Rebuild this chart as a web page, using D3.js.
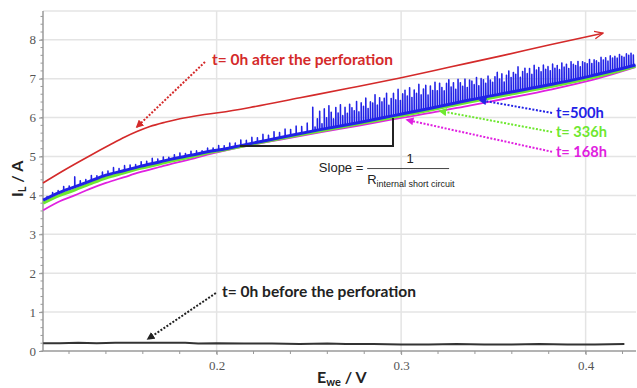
<!DOCTYPE html>
<html><head><meta charset="utf-8">
<script src="https://cdn.jsdelivr.net/npm/d3@7"></script>
<style>body{margin:0;background:#fff}svg{display:block}</style>
</head><body>
<svg id="c" width="637" height="388"></svg>
<script>
// ---------- data ----------
const xTicks = [0.2, 0.3, 0.4];
const yTicks = [0, 1, 2, 3, 4, 5, 6, 7, 8];

const redX = [0.1059,0.1178,0.1313,0.1422,0.1503,0.1568,0.1638,0.1720,0.1801,0.1910,0.2018,0.2181,0.2452,0.2722,0.2994,0.3265,0.3536,0.3807,0.4094];
const redY = [4.32,4.66,5.02,5.30,5.50,5.64,5.77,5.88,5.97,6.06,6.13,6.26,6.51,6.76,7.02,7.30,7.58,7.87,8.17];

const curveX = [0.106,0.115,0.123,0.131,0.140,0.150,0.158,0.169,0.177,0.186,0.195,0.205,0.213,0.234,0.256,0.278,0.296,0.316,0.337,0.359,0.381,0.402,0.427];
const magentaY = [3.62,3.85,4.00,4.16,4.32,4.47,4.59,4.73,4.83,4.93,5.05,5.16,5.24,5.43,5.62,5.80,5.96,6.12,6.31,6.51,6.72,6.95,7.30];
const greenY   = [3.80,4.00,4.14,4.29,4.45,4.58,4.69,4.81,4.90,4.99,5.09,5.18,5.26,5.46,5.66,5.85,6.01,6.20,6.40,6.60,6.80,7.01,7.32];
const blueY    = [3.88,4.08,4.22,4.36,4.52,4.64,4.74,4.86,4.95,5.03,5.12,5.20,5.28,5.48,5.69,5.88,6.05,6.24,6.45,6.65,6.85,7.06,7.35];

// blue noise spikes (height above the blue trace)
const blueSpikesLeft = [0.05,0.09,0.07,0.12,0.08,0.26,0.11,0.09,0.14,0.08,0.12,0.10,0.15,0.09,0.13,0.11,0.08,0.12,0.10,0.14,
0.09,0.11,0.07,0.10,0.12,0.08,0.11,0.09,0.06,0.10,0.08,0.12,0.09,0.13,0.10,0.15,0.11,0.16,0.12,0.18,
0.13,0.19,0.14,0.20,0.16,0.22,0.18,0.24];
const blueSpikesRight = [0.62,0.10,0.30,0.48,0.15,0.52,0.28,0.58,0.40,0.22,0.50,0.35,0.55,0.26,0.46,0.30,0.52,0.42,0.33,0.56,
0.28,0.50,0.40,0.60,0.32,0.48,0.44,0.64,0.36,0.54,0.42,0.50,0.62,0.30,0.46,0.58,0.40,0.66,0.36,0.52,
0.60,0.44,0.64,0.38,0.56,0.46,0.68,0.40,0.54,0.62,0.36,0.58,0.45,0.65,0.42,0.60,0.48,0.38,0.56,0.64,
0.44,0.54,0.36,0.60,0.50,0.40,0.57,0.34,0.52,0.48,0.38,0.55,0.33,0.50,0.46,0.36,0.53,0.42,0.35,0.48,
0.58,0.40,0.52,0.30,0.46,0.56,0.38,0.50,0.44,0.62,0.34,0.48,0.55,0.40,0.52,0.36,0.58,0.45,0.50,0.38,
0.54,0.42,0.48,0.36,0.52,0.40,0.46,0.34,0.50,0.38,0.44,0.32,0.48,0.40,0.36,0.45,0.30,0.42,0.38,0.34,
0.44,0.32,0.40,0.36,0.30,0.42,0.34,0.38,0.28,0.40,0.33,0.36,0.30,0.38,0.32,0.28,0.35,0.30,0.34,0.28];

const blackX = [0.106,0.115,0.125,0.135,0.145,0.155,0.165,0.175,0.183,0.190,0.200,0.215,0.230,0.245,0.260,0.270,0.285,0.300,0.315,0.330,0.345,0.360,0.375,0.390,0.405,0.421];
const blackY = [0.20,0.20,0.21,0.20,0.21,0.21,0.21,0.21,0.21,0.19,0.20,0.19,0.19,0.18,0.19,0.18,0.18,0.17,0.17,0.18,0.17,0.17,0.18,0.17,0.17,0.18];

// ---------- layout ----------
const svg = d3.select("#c");
const x = d3.scaleLinear().domain([0.1059, 0.4273]).range([43, 636]);
const y = d3.scaleLinear().domain([0, 8.74]).range([351, 11]);

const defs = svg.append("defs");
function marker(id, color, open) {
  const m = defs.append("marker").attr("id", id).attr("viewBox", "0 0 10 10")
    .attr("refX", open ? 9 : 8).attr("refY", 5).attr("markerWidth", open ? 6 : 4).attr("markerHeight", open ? 6 : 4)
    .attr("orient", "auto").attr("markerUnits", "strokeWidth");
  if (open) m.append("path").attr("d", "M0,1 L9,5 L0,9").attr("fill", "none").attr("stroke", color).attr("stroke-width", 1.4);
  else m.append("path").attr("d", "M0,0 L10,5 L0,10 Z").attr("fill", color);
}
const RED = "#d42a2a", BLUE = "#2222e6", GREEN = "#6ee830", MAG = "#e020e0", BLK = "#222";
marker("aRed", RED); marker("aBlk", BLK); marker("aBlue", BLUE); marker("aGreen", GREEN); marker("aMag", MAG);
marker("aRedOpen", RED, true);

// grid
const grid = svg.append("g").attr("stroke", "#e4e4e4").attr("stroke-width", 1.5);
grid.selectAll(".gy").data(yTicks.slice(1)).enter().append("line")
  .attr("x1", 43).attr("x2", 636).attr("y1", d => y(d)).attr("y2", d => y(d));
grid.append("line").attr("x1", 43).attr("x2", 636).attr("y1", 11).attr("y2", 11);
grid.selectAll(".gx").data(xTicks).enter().append("line")
  .attr("y1", 11).attr("y2", 351).attr("x1", d => x(d)).attr("x2", d => x(d));

// axes
const yAxis = d3.axisLeft(y).tickValues(yTicks).tickSize(4).tickPadding(3).tickFormat(d3.format("d"));
const gy = svg.append("g").attr("transform", "translate(43,0)").call(yAxis);
const yMinor = d3.range(0, 8.7, 0.2);
gy.selectAll(".minor").data(yMinor).enter().append("line").attr("class", "minor")
  .attr("x1", 0).attr("x2", -2.5).attr("y1", d => y(d)).attr("y2", d => y(d)).attr("stroke", "#999");
const xAxis = d3.axisBottom(x).tickValues(xTicks).tickSize(4).tickPadding(6).tickFormat(d3.format(".1f"));
const gx = svg.append("g").attr("transform", "translate(0,351)").call(xAxis);
const xMinor = d3.range(0.12, 0.427, 0.02);
gx.selectAll(".minor").data(xMinor).enter().append("line").attr("class", "minor")
  .attr("y1", 0).attr("y2", 3).attr("x1", d => x(d)).attr("x2", d => x(d)).attr("stroke", "#999");
[gx, gy].forEach(g => {
  g.attr("font-family", null).attr("font-size", null);
  g.select(".domain").attr("stroke", "#9a9a9a").attr("stroke-width", 1.5);
  g.selectAll(".tick line").attr("stroke", "#999");
  g.selectAll("text").style("font-family", "'Liberation Serif','DejaVu Serif',serif").style("font-size", "13px").attr("fill", "#555");
});
gx.select(".domain").attr("d", "M43,0H636");
gy.select(".domain").attr("d", "M0,351V11");

// curves
const line = d3.line().x(d => x(d[0])).y(d => y(d[1])).curve(d3.curveMonotoneX);
const zip = (a, b) => a.map((v, i) => [v, b[i]]);

svg.append("path").datum(zip(blackX, blackY)).attr("d", d3.line().x(d => x(d[0])).y(d => y(d[1])))
  .attr("fill", "none").attr("stroke", "#333").attr("stroke-width", 2);

svg.append("path").datum(zip(curveX, magentaY)).attr("d", line)
  .attr("fill", "none").attr("stroke", MAG).attr("stroke-width", 1.8);
svg.append("path").datum(zip(curveX, greenY)).attr("d", line)
  .attr("fill", "none").attr("stroke", GREEN).attr("stroke-width", 3.2);

// blue trace with spikes
const blueBase = d3.scaleLinear().domain(curveX).range(blueY);
const spikeXLeft = blueSpikesLeft.map((_, i) => 0.108 + i * 0.003);
const spikeXRight = blueSpikesRight.map((_, i) => 0.252 + i * 0.00125);
const bluePts = [[curveX[0], blueY[0]]];
zip(spikeXLeft, blueSpikesLeft).concat(zip(spikeXRight, blueSpikesRight)).forEach(([sx, h]) => {
  const b = blueBase(sx);
  bluePts.push([sx, b], [sx, b + h], [sx + 0.0002, b + h], [sx + 0.0003, b]);
});
bluePts.push([curveX[curveX.length - 1], blueY[blueY.length - 1]]);
svg.append("path").datum(zip(curveX, blueY)).attr("d", line)
  .attr("fill", "none").attr("stroke", BLUE).attr("stroke-width", 3);
svg.append("path").datum(bluePts).attr("d", d3.line().x(d => x(d[0])).y(d => y(d[1])))
  .attr("fill", "none").attr("stroke", BLUE).attr("stroke-width", 1.2).attr("stroke-linejoin", "bevel");

svg.append("path").datum(zip(redX, redY)).attr("d", line)
  .attr("fill", "none").attr("stroke", RED).attr("stroke-width", 1.6).attr("marker-end", "url(#aRedOpen)");

// slope triangle
svg.append("path")
  .attr("d", `M${x(0.2126)},${y(5.27)}H${x(0.2956)}V${y(5.99)}`)
  .attr("fill", "none").attr("stroke", BLK).attr("stroke-width", 2);

// annotations (dotted arrows)
const arrows = [
  {from: [0.1937, 7.43], to: [0.1568, 5.76], c: RED, m: "aRed"},
  {from: [0.1996, 1.49], to: [0.1628, 0.31], c: BLK, m: "aBlk"},
  {from: [0.3818, 6.12], to: [0.3427, 6.45], c: BLUE, m: "aBlue"},
  {from: [0.3818, 5.63], to: [0.3211, 6.17], c: GREEN, m: "aGreen"},
  {from: [0.3818, 5.12], to: [0.3032, 5.94], c: MAG, m: "aMag"}
];
arrows.forEach(a => {
  svg.append("line").attr("x1", x(a.from[0])).attr("y1", y(a.from[1]))
    .attr("x2", x(a.to[0])).attr("y2", y(a.to[1]))
    .attr("stroke", a.c).attr("stroke-width", 2).attr("stroke-dasharray", "2,1.6")
    .attr("marker-end", `url(#${a.m})`);
});

const lab = "Lato, 'Open Sans', sans-serif";
const labels = [
  {t: "t= 0h after the perforation", x: 0.1975, y: 7.35, c: RED, w: 181},
  {t: "t= 0h before the perforation", x: 0.2029, y: 1.38, c: BLK, w: 194},
  {t: "t=500h", x: 0.3839, y: 6.0, c: BLUE, w: 48},
  {t: "t= 336h", x: 0.3839, y: 5.49, c: GREEN, w: 51},
  {t: "t= 168h", x: 0.3839, y: 4.98, c: MAG, w: 51}
];
labels.forEach(l => {
  svg.append("text").attr("x", x(l.x)).attr("y", y(l.y)).text(l.t)
    .attr("font-family", lab).attr("font-weight", "bold").attr("font-size", 16)
    .attr("fill", l.c).attr("textLength", l.w).attr("lengthAdjust", "spacingAndGlyphs");
});

// slope formula
const sf = "'Liberation Sans', Arial, sans-serif";
svg.append("text").attr("x", x(0.2795)).attr("y", y(4.60)).attr("text-anchor", "end")
  .attr("font-family", sf).attr("font-size", 13).attr("fill", "#222").text("Slope =");
svg.append("line").attr("x1", x(0.2816)).attr("x2", x(0.3260)).attr("y1", y(4.69)).attr("y2", y(4.69))
  .attr("stroke", "#444").attr("stroke-width", 1);
svg.append("text").attr("x", x(0.3049)).attr("y", y(4.82)).attr("text-anchor", "middle")
  .attr("font-family", sf).attr("font-size", 13).attr("fill", "#222").text("1");
const rt = svg.append("text").attr("x", x(0.2816)).attr("y", y(4.30))
  .attr("font-family", sf).attr("font-size", 13).attr("fill", "#222");
rt.append("tspan").text("R");
rt.append("tspan").attr("font-size", 9).attr("dy", 3).text("internal short circuit");

// axis titles
const xt = svg.append("text").attr("x", 317).attr("y", 383)
  .attr("font-family", lab).attr("font-weight", "bold").attr("font-size", 16).attr("fill", "#222");
xt.append("tspan").text("E");
xt.append("tspan").attr("font-size", 11).attr("dy", 3).text("we");
xt.append("tspan").attr("dy", -3).text(" / V");

const yt = svg.append("text").attr("transform", "translate(23,197) rotate(-90)")
  .attr("font-family", lab).attr("font-weight", "bold").attr("font-size", 16).attr("fill", "#222");
yt.append("tspan").text("I");
yt.append("tspan").attr("font-size", 11).attr("dy", 3).text("L");
yt.append("tspan").attr("dy", -3).text(" / A");
</script>
</body></html>
